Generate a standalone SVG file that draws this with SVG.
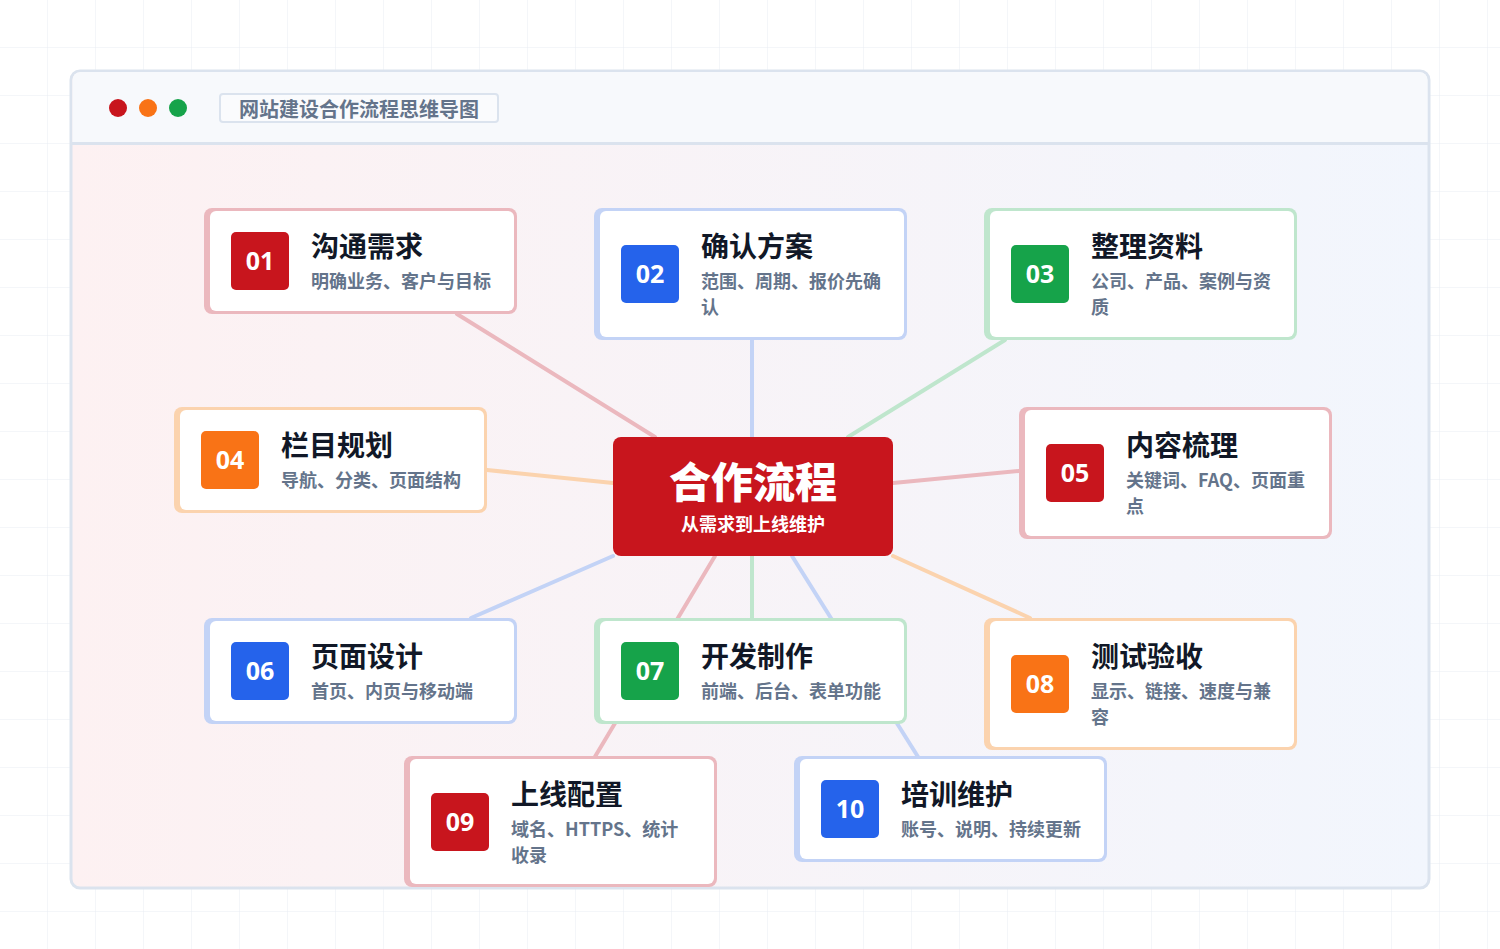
<svg xmlns="http://www.w3.org/2000/svg" width="1500" height="949" viewBox="0 0 1500 949">
<defs>
<pattern id="grid" width="48" height="48" patternUnits="userSpaceOnUse">
<path d="M48 0V48M0 48H48" fill="none" stroke="#e9edf3" stroke-width="1"/>
</pattern>
<linearGradient id="bg" x1="0" y1="0" x2="1" y2="0">
<stop offset="0" stop-color="#fdf1f2"/>
<stop offset="1" stop-color="#f2f6fd"/>
</linearGradient>
<style>
.title{font-family:"Noto Sans CJK SC","Noto Sans",sans-serif;font-weight:700;font-size:28px;fill:#111827}
.sub{font-family:"Noto Sans CJK SC","Noto Sans",sans-serif;font-weight:700;font-size:18px;fill:#64748b}
.num{font-family:"Open Sans","Noto Sans",sans-serif;font-weight:700;font-size:25px;fill:#ffffff;text-anchor:middle}
.inner{fill:#ffffff}
.conn{fill:none;stroke-width:4;stroke-linecap:round}
.pink{stroke:#ebb8be}.blue{stroke:#c3d3f6}.green{stroke:#bfe6cd}.orange{stroke:#fbd3ae}
.fpink{fill:#ebb8be}.fblue{fill:#c3d3f6}.fgreen{fill:#bfe6cd}.forange{fill:#fbd3ae}
.bred{fill:#c8151d}.bblue{fill:#2563eb}.bgreen{fill:#16a34a}.borange{fill:#f97316}
</style>
</defs>
<rect width="1500" height="949" fill="#ffffff"/>
<rect width="1500" height="949" fill="url(#grid)"/>
<g id="window">
<rect x="71" y="71" width="1358" height="817" rx="9" fill="url(#bg)" stroke="#dbe3ee" stroke-width="3"/>
<path d="M72.5 143V80a8 8 0 0 1 8-8H1419.5a8 8 0 0 1 8 8V143Z" fill="#f7f9fc"/>
<line x1="72" y1="143.5" x2="1428" y2="143.5" stroke="#dbe3ee" stroke-width="3"/>
<circle cx="118" cy="108" r="9" fill="#c8151d"/>
<circle cx="148" cy="108" r="9" fill="#f97316"/>
<circle cx="178" cy="108" r="9" fill="#16a34a"/>
<rect x="220" y="94" width="278" height="28" rx="3" fill="#fafbfd" stroke="#dbe3ee" stroke-width="2"/>
<text x="239" y="117" font-family="Noto Sans CJK SC, sans-serif" font-weight="700" font-size="20" fill="#64748b">网站建设合作流程思维导图</text>
</g>
<g id="connectors">
<line class="conn pink" x1="457" y1="314" x2="655" y2="437"/>
<line class="conn blue" x1="752" y1="340" x2="752" y2="437"/>
<line class="conn green" x1="1005" y1="340" x2="848" y2="437"/>
<line class="conn orange" x1="487" y1="470" x2="613" y2="483"/>
<line class="conn pink" x1="1019" y1="471" x2="893" y2="483"/>
<line class="conn blue" x1="471" y1="618" x2="613" y2="556"/>
<line class="conn green" x1="752" y1="618" x2="752" y2="556"/>
<line class="conn orange" x1="1030" y1="618" x2="893" y2="556"/>
<line class="conn pink" x1="715" y1="556" x2="593" y2="760"/>
<line class="conn blue" x1="792" y1="556" x2="920" y2="760"/>
</g>
<g id="center">
<rect x="613" y="437" width="280" height="119" rx="8" fill="#c8151d"/>
<text x="753" y="498" text-anchor="middle" font-family="Noto Sans CJK SC, sans-serif" font-weight="900" font-size="42" fill="#ffffff">合作流程</text>
<text x="753" y="531" text-anchor="middle" font-family="Noto Sans CJK SC, sans-serif" font-weight="700" font-size="18" fill="#ffffff">从需求到上线维护</text>
</g>
<g id="node01">
<rect class="fpink" x="204" y="208" width="313" height="106" rx="8"/>
<rect class="inner" x="210" y="211" width="304" height="100" rx="6"/>
<rect class="bred" x="231" y="232" width="58" height="58" rx="5"/>
<text class="num" x="260" y="270">01</text>
<text class="title" x="311" y="257">沟通需求</text>
<text class="sub" x="311" y="288">明确业务、客户与目标</text>
</g>
<g id="node02">
<rect class="fblue" x="594" y="208" width="313" height="132" rx="8"/>
<rect class="inner" x="600" y="211" width="304" height="126" rx="6"/>
<rect class="bblue" x="621" y="245" width="58" height="58" rx="5"/>
<text class="num" x="650" y="283">02</text>
<text class="title" x="701" y="257">确认方案</text>
<text class="sub" x="701" y="288">范围、周期、报价先确</text>
<text class="sub" x="701" y="314">认</text>
</g>
<g id="node03">
<rect class="fgreen" x="984" y="208" width="313" height="132" rx="8"/>
<rect class="inner" x="990" y="211" width="304" height="126" rx="6"/>
<rect class="bgreen" x="1011" y="245" width="58" height="58" rx="5"/>
<text class="num" x="1040" y="283">03</text>
<text class="title" x="1091" y="257">整理资料</text>
<text class="sub" x="1091" y="288">公司、产品、案例与资</text>
<text class="sub" x="1091" y="314">质</text>
</g>
<g id="node04">
<rect class="forange" x="174" y="407" width="313" height="106" rx="8"/>
<rect class="inner" x="180" y="410" width="304" height="100" rx="6"/>
<rect class="borange" x="201" y="431" width="58" height="58" rx="5"/>
<text class="num" x="230" y="469">04</text>
<text class="title" x="281" y="456">栏目规划</text>
<text class="sub" x="281" y="487">导航、分类、页面结构</text>
</g>
<g id="node05">
<rect class="fpink" x="1019" y="407" width="313" height="132" rx="8"/>
<rect class="inner" x="1025" y="410" width="304" height="126" rx="6"/>
<rect class="bred" x="1046" y="444" width="58" height="58" rx="5"/>
<text class="num" x="1075" y="482">05</text>
<text class="title" x="1126" y="456">内容梳理</text>
<text class="sub" x="1126" y="487">关键词、FAQ、页面重</text>
<text class="sub" x="1126" y="513">点</text>
</g>
<g id="node06">
<rect class="fblue" x="204" y="618" width="313" height="106" rx="8"/>
<rect class="inner" x="210" y="621" width="304" height="100" rx="6"/>
<rect class="bblue" x="231" y="642" width="58" height="58" rx="5"/>
<text class="num" x="260" y="680">06</text>
<text class="title" x="311" y="667">页面设计</text>
<text class="sub" x="311" y="698">首页、内页与移动端</text>
</g>
<g id="node07">
<rect class="fgreen" x="594" y="618" width="313" height="106" rx="8"/>
<rect class="inner" x="600" y="621" width="304" height="100" rx="6"/>
<rect class="bgreen" x="621" y="642" width="58" height="58" rx="5"/>
<text class="num" x="650" y="680">07</text>
<text class="title" x="701" y="667">开发制作</text>
<text class="sub" x="701" y="698">前端、后台、表单功能</text>
</g>
<g id="node08">
<rect class="forange" x="984" y="618" width="313" height="132" rx="8"/>
<rect class="inner" x="990" y="621" width="304" height="126" rx="6"/>
<rect class="borange" x="1011" y="655" width="58" height="58" rx="5"/>
<text class="num" x="1040" y="693">08</text>
<text class="title" x="1091" y="667">测试验收</text>
<text class="sub" x="1091" y="698">显示、链接、速度与兼</text>
<text class="sub" x="1091" y="724">容</text>
</g>
<g id="node09">
<rect class="fpink" x="404" y="756" width="313" height="131" rx="8"/>
<rect class="inner" x="410" y="759" width="304" height="125" rx="6"/>
<rect class="bred" x="431" y="793" width="58" height="58" rx="5"/>
<text class="num" x="460" y="831">09</text>
<text class="title" x="511" y="805">上线配置</text>
<text class="sub" x="511" y="836">域名、HTTPS、统计</text>
<text class="sub" x="511" y="862">收录</text>
</g>
<g id="node10">
<rect class="fblue" x="794" y="756" width="313" height="106" rx="8"/>
<rect class="inner" x="800" y="759" width="304" height="100" rx="6"/>
<rect class="bblue" x="821" y="780" width="58" height="58" rx="5"/>
<text class="num" x="850" y="818">10</text>
<text class="title" x="901" y="805">培训维护</text>
<text class="sub" x="901" y="836">账号、说明、持续更新</text>
</g>
</svg>
